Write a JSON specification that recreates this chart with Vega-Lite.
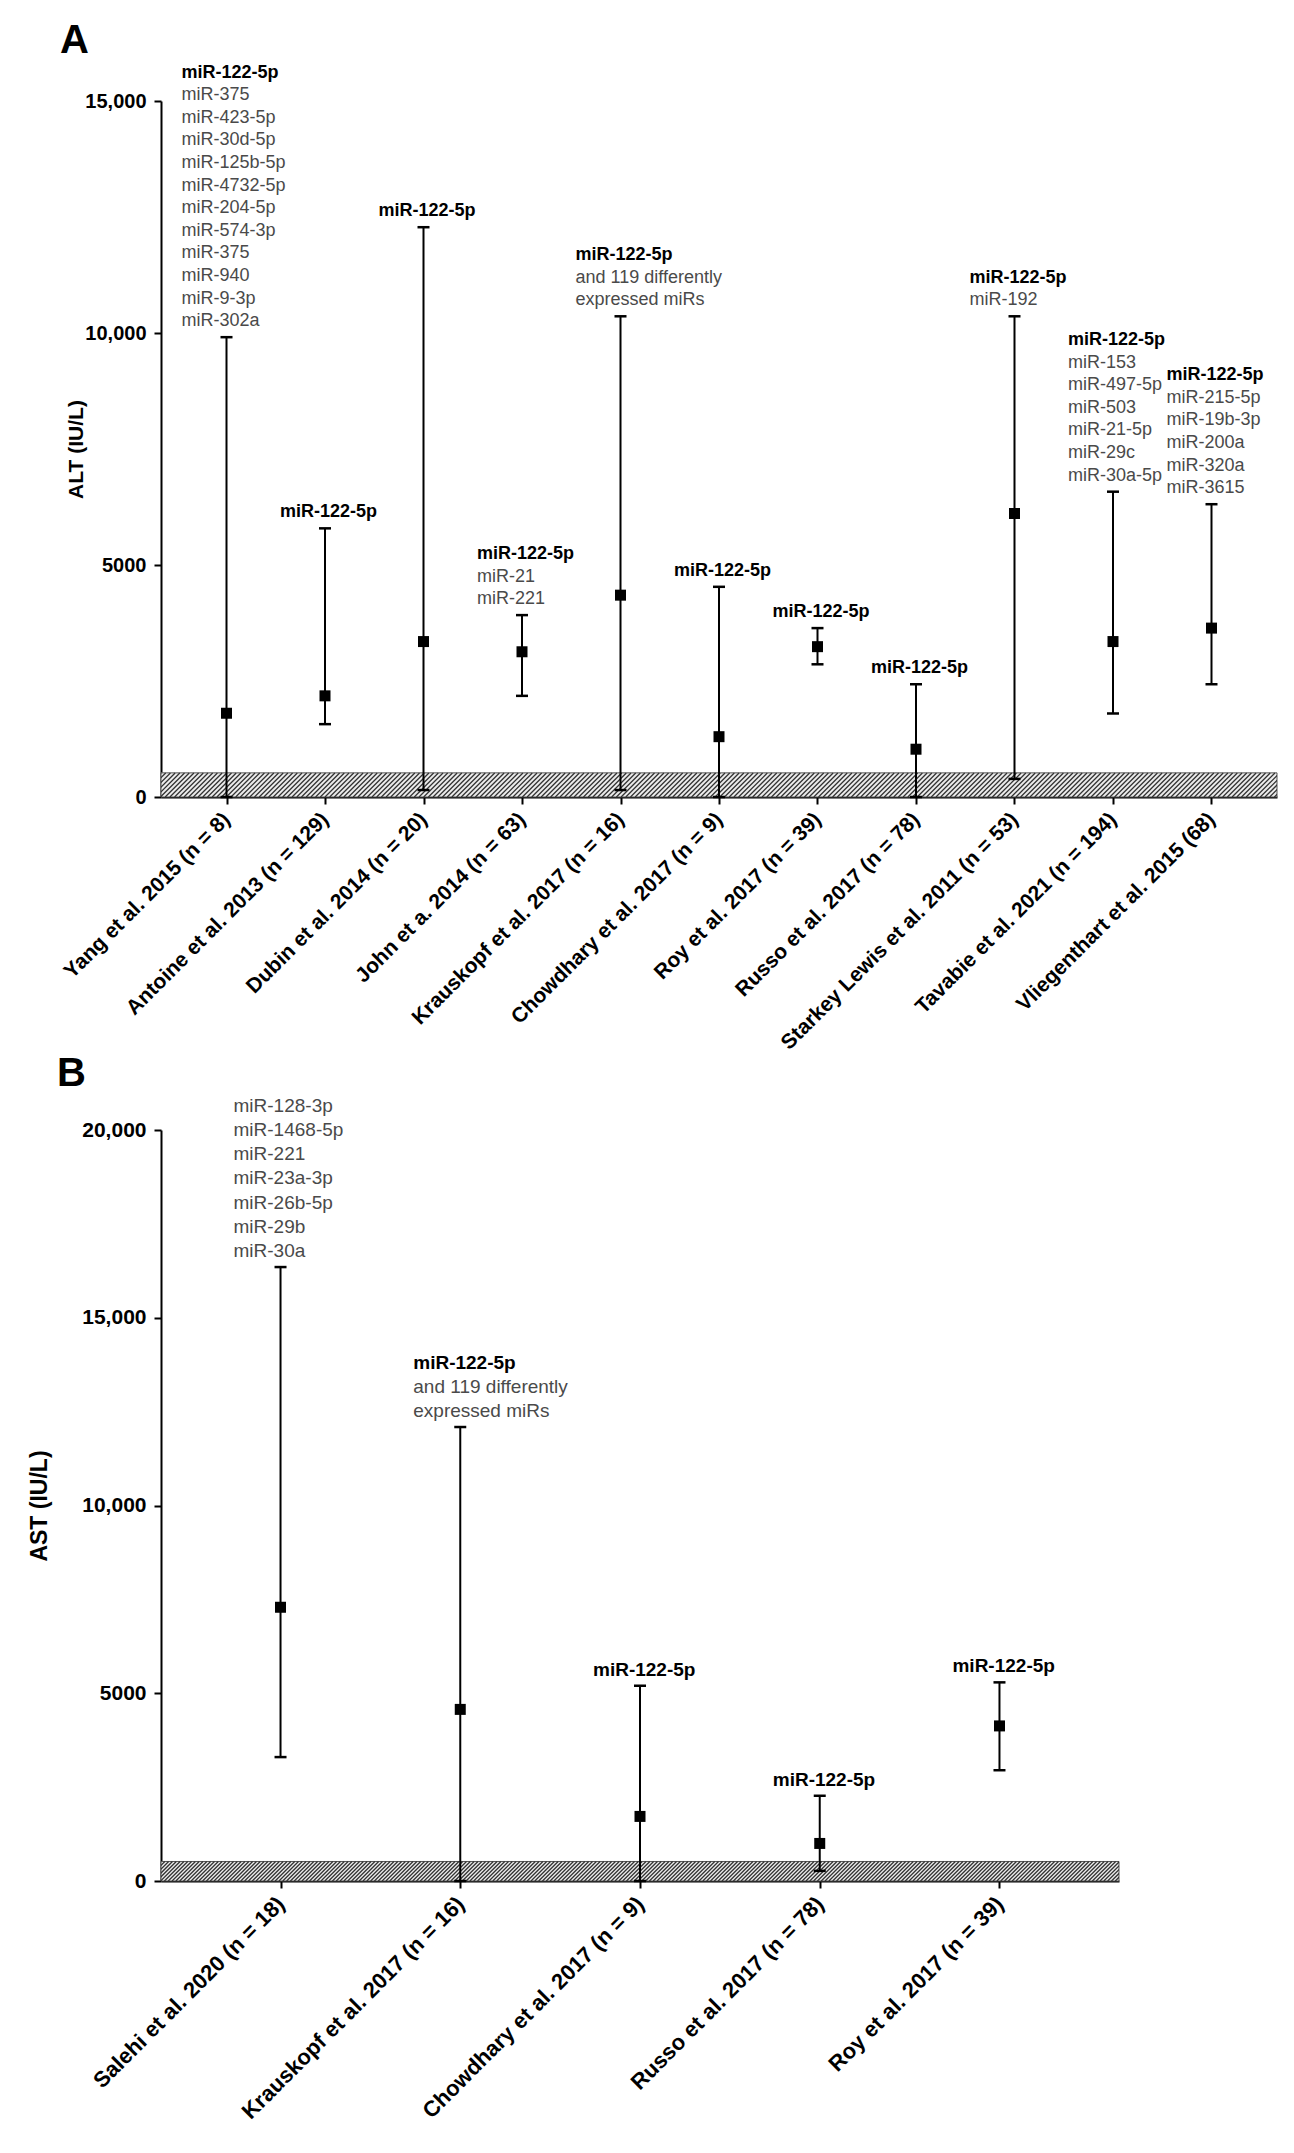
{
"$schema":"https://vega.github.io/schema/vega-lite/v6.json",
"autosize":"none",
"padding":{"left":161,"top":101,"right":1133,"bottom":2052},
"background":"white",
"bounds":"flush",
"spacing":333,
"config":{
 "font":"Liberation Sans",
 "view":{"stroke":null},
 "axis":{"domainColor":"black","domainWidth":2,"tickColor":"black","tickWidth":2,"tickSize":7,"grid":false,"labelColor":"black","titleColor":"black","labelFontWeight":"bold","titleFontWeight":"bold","labelOverlap":false},
 "style":{"hatch":{"shape":"M-24,0l24,-24m-19.3,24l24,-24m-19.3,24l24,-24m-19.3,24l24,-24m-19.3,24l24,-24m-19.3,24l24,-24m-19.3,24l24,-24m-19.3,24l24,-24m-19.3,24l24,-24m-19.3,24l24,-24m-19.3,24l24,-24m-19.3,24l24,-24m-19.3,24l24,-24m-19.3,24l24,-24m-19.3,24l24,-24m-19.3,24l24,-24m-19.3,24l24,-24m-19.3,24l24,-24m-19.3,24l24,-24m-19.3,24l24,-24m-19.3,24l24,-24m-19.3,24l24,-24m-19.3,24l24,-24m-19.3,24l24,-24m-19.3,24l24,-24m-19.3,24l24,-24m-19.3,24l24,-24m-19.3,24l24,-24m-19.3,24l24,-24m-19.3,24l24,-24m-19.3,24l24,-24m-19.3,24l24,-24m-19.3,24l24,-24m-19.3,24l24,-24m-19.3,24l24,-24m-19.3,24l24,-24m-19.3,24l24,-24m-19.3,24l24,-24m-19.3,24l24,-24m-19.3,24l24,-24m-19.3,24l24,-24m-19.3,24l24,-24m-19.3,24l24,-24m-19.3,24l24,-24m-19.3,24l24,-24m-19.3,24l24,-24m-19.3,24l24,-24m-19.3,24l24,-24m-19.3,24l24,-24m-19.3,24l24,-24m-19.3,24l24,-24m-19.3,24l24,-24m-19.3,24l24,-24m-19.3,24l24,-24m-19.3,24l24,-24m-19.3,24l24,-24m-19.3,24l24,-24m-19.3,24l24,-24m-19.3,24l24,-24m-19.3,24l24,-24m-19.3,24l24,-24m-19.3,24l24,-24m-19.3,24l24,-24m-19.3,24l24,-24m-19.3,24l24,-24m-19.3,24l24,-24m-19.3,24l24,-24m-19.3,24l24,-24m-19.3,24l24,-24m-19.3,24l24,-24m-19.3,24l24,-24m-19.3,24l24,-24m-19.3,24l24,-24m-19.3,24l24,-24m-19.3,24l24,-24m-19.3,24l24,-24m-19.3,24l24,-24m-19.3,24l24,-24m-19.3,24l24,-24m-19.3,24l24,-24m-19.3,24l24,-24m-19.3,24l24,-24m-19.3,24l24,-24m-19.3,24l24,-24m-19.3,24l24,-24m-19.3,24l24,-24m-19.3,24l24,-24m-19.3,24l24,-24m-19.3,24l24,-24m-19.3,24l24,-24m-19.3,24l24,-24m-19.3,24l24,-24m-19.3,24l24,-24m-19.3,24l24,-24m-19.3,24l24,-24m-19.3,24l24,-24m-19.3,24l24,-24m-19.3,24l24,-24m-19.3,24l24,-24m-19.3,24l24,-24m-19.3,24l24,-24m-19.3,24l24,-24m-19.3,24l24,-24m-19.3,24l24,-24m-19.3,24l24,-24m-19.3,24l24,-24m-19.3,24l24,-24m-19.3,24l24,-24m-19.3,24l24,-24m-19.3,24l24,-24m-19.3,24l24,-24m-19.3,24l24,-24m-19.3,24l24,-24m-19.3,24l24,-24m-19.3,24l24,-24m-19.3,24l24,-24m-19.3,24l24,-24m-19.3,24l24,-24m-19.3,24l24,-24m-19.3,24l24,-24m-19.3,24l24,-24m-19.3,24l24,-24m-19.3,24l24,-24m-19.3,24l24,-24m-19.3,24l24,-24m-19.3,24l24,-24m-19.3,24l24,-24m-19.3,24l24,-24m-19.3,24l24,-24m-19.3,24l24,-24m-19.3,24l24,-24m-19.3,24l24,-24m-19.3,24l24,-24m-19.3,24l24,-24m-19.3,24l24,-24m-19.3,24l24,-24m-19.3,24l24,-24m-19.3,24l24,-24m-19.3,24l24,-24m-19.3,24l24,-24m-19.3,24l24,-24m-19.3,24l24,-24m-19.3,24l24,-24m-19.3,24l24,-24m-19.3,24l24,-24m-19.3,24l24,-24m-19.3,24l24,-24m-19.3,24l24,-24m-19.3,24l24,-24m-19.3,24l24,-24m-19.3,24l24,-24m-19.3,24l24,-24m-19.3,24l24,-24m-19.3,24l24,-24m-19.3,24l24,-24m-19.3,24l24,-24m-19.3,24l24,-24m-19.3,24l24,-24m-19.3,24l24,-24m-19.3,24l24,-24m-19.3,24l24,-24m-19.3,24l24,-24m-19.3,24l24,-24m-19.3,24l24,-24m-19.3,24l24,-24m-19.3,24l24,-24m-19.3,24l24,-24m-19.3,24l24,-24m-19.3,24l24,-24m-19.3,24l24,-24m-19.3,24l24,-24m-19.3,24l24,-24m-19.3,24l24,-24m-19.3,24l24,-24m-19.3,24l24,-24m-19.3,24l24,-24m-19.3,24l24,-24m-19.3,24l24,-24m-19.3,24l24,-24m-19.3,24l24,-24m-19.3,24l24,-24m-19.3,24l24,-24m-19.3,24l24,-24m-19.3,24l24,-24m-19.3,24l24,-24m-19.3,24l24,-24m-19.3,24l24,-24m-19.3,24l24,-24m-19.3,24l24,-24m-19.3,24l24,-24m-19.3,24l24,-24m-19.3,24l24,-24m-19.3,24l24,-24m-19.3,24l24,-24m-19.3,24l24,-24m-19.3,24l24,-24m-19.3,24l24,-24m-19.3,24l24,-24m-19.3,24l24,-24m-19.3,24l24,-24m-19.3,24l24,-24m-19.3,24l24,-24m-19.3,24l24,-24m-19.3,24l24,-24m-19.3,24l24,-24m-19.3,24l24,-24m-19.3,24l24,-24m-19.3,24l24,-24m-19.3,24l24,-24m-19.3,24l24,-24m-19.3,24l24,-24m-19.3,24l24,-24m-19.3,24l24,-24m-19.3,24l24,-24m-19.3,24l24,-24m-19.3,24l24,-24m-19.3,24l24,-24m-19.3,24l24,-24m-19.3,24l24,-24m-19.3,24l24,-24m-19.3,24l24,-24m-19.3,24l24,-24m-19.3,24l24,-24m-19.3,24l24,-24m-19.3,24l24,-24m-19.3,24l24,-24m-19.3,24l24,-24m-19.3,24l24,-24m-19.3,24l24,-24m-19.3,24l24,-24m-19.3,24l24,-24m-19.3,24l24,-24m-19.3,24l24,-24m-19.3,24l24,-24m-19.3,24l24,-24m-19.3,24l24,-24m-19.3,24l24,-24m-19.3,24l24,-24m-19.3,24l24,-24m-19.3,24l24,-24m-19.3,24l24,-24m-19.3,24l24,-24m-19.3,24l24,-24m-19.3,24l24,-24m-19.3,24l24,-24m-19.3,24l24,-24m-19.3,24l24,-24m-19.3,24l24,-24m-19.3,24l24,-24m-19.3,24l24,-24m-19.3,24l24,-24m-19.3,24l24,-24m-19.3,24l24,-24m-19.3,24l24,-24m-19.3,24l24,-24m-19.3,24l24,-24m-19.3,24l24,-24m-19.3,24l24,-24m-19.3,24l24,-24m-19.3,24l24,-24m-19.3,24l24,-24m-19.3,24l24,-24m-19.3,24l24,-24m-19.3,24l24,-24m-19.3,24l24,-24m-19.3,24l24,-24m-19.3,24l24,-24m-19.3,24l24,-24m-19.3,24l24,-24m-19.3,24l24,-24m-19.3,24l24,-24"}}
},
"datasets":{
 "alt":[
  {"study":"Yang et al. 2015 (n = 8)","mean":1805,"lo":0,"hi":9910},
  {"study":"Antoine et al. 2013 (n = 129)","mean":2180,"lo":1570,"hi":5790},
  {"study":"Dubin et al. 2014 (n = 20)","mean":3350,"lo":150,"hi":12280},
  {"study":"John et a. 2014 (n = 63)","mean":3130,"lo":2180,"hi":3920},
  {"study":"Krauskopf et al. 2017 (n = 16)","mean":4350,"lo":150,"hi":10360},
  {"study":"Chowdhary et al. 2017 (n = 9)","mean":1300,"lo":0,"hi":4530},
  {"study":"Roy et al. 2017 (n = 39)","mean":3240,"lo":2860,"hi":3640},
  {"study":"Russo et al. 2017 (n = 78)","mean":1030,"lo":0,"hi":2430},
  {"study":"Starkey Lewis et al. 2011 (n = 53)","mean":6110,"lo":390,"hi":10360},
  {"study":"Tavabie et al. 2021 (n = 194)","mean":3350,"lo":1800,"hi":6580},
  {"study":"Vliegenthart et al. 2015 (68)","mean":3640,"lo":2430,"hi":6310}
 ],
 "ast":[
  {"study":"Salehi et al. 2020 (n = 18)","mean":7290,"lo":3300,"hi":16350},
  {"study":"Krauskopf et al. 2017 (n = 16)","mean":4570,"lo":0,"hi":12090},
  {"study":"Chowdhary et al. 2017 (n = 9)","mean":1720,"lo":0,"hi":5200},
  {"study":"Russo et al. 2017 (n = 78)","mean":1000,"lo":270,"hi":2270},
  {"study":"Roy et al. 2017 (n = 39)","mean":4130,"lo":2950,"hi":5290}
 ],
 "normA":[{"lo":0,"hi":520}],
 "normB":[{"lo":0,"hi":520}],
 "labA":[
  {"study":"Yang et al. 2015 (n = 8)","k":11,"w":"b","txt":"miR-122-5p"},
  {"study":"Yang et al. 2015 (n = 8)","k":10,"w":"n","txt":"miR-375"},
  {"study":"Yang et al. 2015 (n = 8)","k":9,"w":"n","txt":"miR-423-5p"},
  {"study":"Yang et al. 2015 (n = 8)","k":8,"w":"n","txt":"miR-30d-5p"},
  {"study":"Yang et al. 2015 (n = 8)","k":7,"w":"n","txt":"miR-125b-5p"},
  {"study":"Yang et al. 2015 (n = 8)","k":6,"w":"n","txt":"miR-4732-5p"},
  {"study":"Yang et al. 2015 (n = 8)","k":5,"w":"n","txt":"miR-204-5p"},
  {"study":"Yang et al. 2015 (n = 8)","k":4,"w":"n","txt":"miR-574-3p"},
  {"study":"Yang et al. 2015 (n = 8)","k":3,"w":"n","txt":" miR-375"},
  {"study":"Yang et al. 2015 (n = 8)","k":2,"w":"n","txt":"miR-940"},
  {"study":"Yang et al. 2015 (n = 8)","k":1,"w":"n","txt":"miR-9-3p"},
  {"study":"Yang et al. 2015 (n = 8)","k":0,"w":"n","txt":"miR-302a"},
  {"study":"Antoine et al. 2013 (n = 129)","k":0,"w":"b","txt":"miR-122-5p"},
  {"study":"Dubin et al. 2014 (n = 20)","k":0,"w":"b","txt":"miR-122-5p"},
  {"study":"John et a. 2014 (n = 63)","k":2,"w":"b","txt":"miR-122-5p"},
  {"study":"John et a. 2014 (n = 63)","k":1,"w":"n","txt":"miR-21"},
  {"study":"John et a. 2014 (n = 63)","k":0,"w":"n","txt":"miR-221"},
  {"study":"Krauskopf et al. 2017 (n = 16)","k":2,"w":"b","txt":"miR-122-5p"},
  {"study":"Krauskopf et al. 2017 (n = 16)","k":1,"w":"n","txt":"and 119 differently"},
  {"study":"Krauskopf et al. 2017 (n = 16)","k":0,"w":"n","txt":"expressed miRs"},
  {"study":"Chowdhary et al. 2017 (n = 9)","k":0,"w":"b","txt":"miR-122-5p"},
  {"study":"Roy et al. 2017 (n = 39)","k":0,"w":"b","txt":"miR-122-5p"},
  {"study":"Russo et al. 2017 (n = 78)","k":0,"w":"b","txt":"miR-122-5p"},
  {"study":"Starkey Lewis et al. 2011 (n = 53)","k":1,"w":"b","txt":"miR-122-5p"},
  {"study":"Starkey Lewis et al. 2011 (n = 53)","k":0,"w":"n","txt":"miR-192"},
  {"study":"Tavabie et al. 2021 (n = 194)","k":6,"w":"b","txt":"miR-122-5p"},
  {"study":"Tavabie et al. 2021 (n = 194)","k":5,"w":"n","txt":"miR-153"},
  {"study":"Tavabie et al. 2021 (n = 194)","k":4,"w":"n","txt":"miR-497-5p"},
  {"study":"Tavabie et al. 2021 (n = 194)","k":3,"w":"n","txt":"miR-503"},
  {"study":"Tavabie et al. 2021 (n = 194)","k":2,"w":"n","txt":"miR-21-5p"},
  {"study":"Tavabie et al. 2021 (n = 194)","k":1,"w":"n","txt":"miR-29c"},
  {"study":"Tavabie et al. 2021 (n = 194)","k":0,"w":"n","txt":"miR-30a-5p"},
  {"study":"Vliegenthart et al. 2015 (68)","k":5,"w":"b","txt":"miR-122-5p"},
  {"study":"Vliegenthart et al. 2015 (68)","k":4,"w":"n","txt":"miR-215-5p"},
  {"study":"Vliegenthart et al. 2015 (68)","k":3,"w":"n","txt":"miR-19b-3p"},
  {"study":"Vliegenthart et al. 2015 (68)","k":2,"w":"n","txt":"miR-200a"},
  {"study":"Vliegenthart et al. 2015 (68)","k":1,"w":"n","txt":"miR-320a"},
  {"study":"Vliegenthart et al. 2015 (68)","k":0,"w":"n","txt":"miR-3615"}
 ],
 "labB":[
  {"study":"Salehi et al. 2020 (n = 18)","k":6,"w":"n","txt":"miR-128-3p"},
  {"study":"Salehi et al. 2020 (n = 18)","k":5,"w":"n","txt":"miR-1468-5p"},
  {"study":"Salehi et al. 2020 (n = 18)","k":4,"w":"n","txt":"miR-221"},
  {"study":"Salehi et al. 2020 (n = 18)","k":3,"w":"n","txt":"miR-23a-3p"},
  {"study":"Salehi et al. 2020 (n = 18)","k":2,"w":"n","txt":"miR-26b-5p"},
  {"study":"Salehi et al. 2020 (n = 18)","k":1,"w":"n","txt":"miR-29b"},
  {"study":"Salehi et al. 2020 (n = 18)","k":0,"w":"n","txt":"miR-30a"},
  {"study":"Krauskopf et al. 2017 (n = 16)","k":2,"w":"b","txt":"miR-122-5p"},
  {"study":"Krauskopf et al. 2017 (n = 16)","k":1,"w":"n","txt":"and 119 differently"},
  {"study":"Krauskopf et al. 2017 (n = 16)","k":0,"w":"n","txt":"expressed miRs"},
  {"study":"Chowdhary et al. 2017 (n = 9)","k":0,"w":"b","txt":"miR-122-5p"},
  {"study":"Russo et al. 2017 (n = 78)","k":0,"w":"b","txt":"miR-122-5p"},
  {"study":"Roy et al. 2017 (n = 39)","k":0,"w":"b","txt":"miR-122-5p"}
 ]
},
"vconcat":[
 {
  "width":1116,"height":696,
  "title":{"text":"A","anchor":"start","frame":"group","dx":-101,"offset":-29,"fontSize":40,"fontWeight":"bold","baseline":"alphabetic","color":"black"},
  "layer":[
   {"data":{"name":"normA"},
    "mark":{"type":"rect","fill":"#ebebeb","stroke":"#555555","strokeWidth":1,"x":0,"x2":"width"},
    "encoding":{
     "y":{"field":"lo","type":"quantitative","scale":{"domain":[0,15000],"nice":false},
      "axis":{"title":"ALT (IU/L)","values":[0,5000,10000,15000],"labelExpr":"datum.value >= 10000 ? format(datum.value, ',') : format(datum.value, 'd')","labelFontSize":20,"labelPadding":8,"titleFontSize":21,"titleX":-79,"titleY":348,"titleBaseline":"alphabetic","titleAlign":"center"}},
     "y2":{"field":"hi"}}},
   {"data":{"name":"normA"},
    "mark":{"type":"point","style":"hatch","filled":false,"stroke":"#333333","strokeWidth":1.3,"opacity":1,"size":4,"x":0,"clip":true},
    "encoding":{"y":{"field":"lo","type":"quantitative"}}},
   {"data":{"name":"alt"},
    "mark":{"type":"rule","color":"black","strokeWidth":2},
    "encoding":{
     "x":{"field":"study","type":"nominal","scale":{"type":"point","padding":0.665,"domain":["Yang et al. 2015 (n = 8)","Antoine et al. 2013 (n = 129)","Dubin et al. 2014 (n = 20)","John et a. 2014 (n = 63)","Krauskopf et al. 2017 (n = 16)","Chowdhary et al. 2017 (n = 9)","Roy et al. 2017 (n = 39)","Russo et al. 2017 (n = 78)","Starkey Lewis et al. 2011 (n = 53)","Tavabie et al. 2021 (n = 194)","Vliegenthart et al. 2015 (68)"]},
      "axis":{"title":null,"labelAngle":-45,"labelAlign":"right","labelBaseline":"middle","labelFontSize":21,"labelPadding":12,"labelLimit":500}},
     "y":{"field":"lo","type":"quantitative"},
     "y2":{"field":"hi"}}},
   {"data":{"name":"alt"},
    "mark":{"type":"tick","color":"black","thickness":2.5,"size":12,"opacity":1},
    "encoding":{"x":{"field":"study","type":"nominal"},"y":{"field":"hi","type":"quantitative"}}},
   {"data":{"name":"alt"},
    "mark":{"type":"tick","color":"black","thickness":2.5,"size":12,"opacity":1},
    "encoding":{"x":{"field":"study","type":"nominal"},"y":{"field":"lo","type":"quantitative"}}},
   {"data":{"name":"alt"},
    "mark":{"type":"square","color":"black","filled":true,"size":121,"opacity":1},
    "encoding":{"x":{"field":"study","type":"nominal"},"y":{"field":"mean","type":"quantitative"}}},
   {"data":{"name":"labA"},
    "transform":[{"filter":"datum.w == 'b'"},{"lookup":"study","from":{"data":{"name":"alt"},"key":"study","fields":["hi"]}}],
    "mark":{"type":"text","align":"left","baseline":"alphabetic","dx":-45,"dy":{"expr":"-11 - datum.k * 22.6"},"fontSize":18,"fontWeight":"bold","color":"black"},
    "encoding":{"x":{"field":"study","type":"nominal"},"y":{"field":"hi","type":"quantitative"},"text":{"field":"txt"}}},
   {"data":{"name":"labA"},
    "transform":[{"filter":"datum.w == 'n'"},{"lookup":"study","from":{"data":{"name":"alt"},"key":"study","fields":["hi"]}}],
    "mark":{"type":"text","align":"left","baseline":"alphabetic","dx":-45,"dy":{"expr":"-11 - datum.k * 22.6"},"fontSize":18,"fontWeight":"normal","color":"#4a4a4a"},
    "encoding":{"x":{"field":"study","type":"nominal"},"y":{"field":"hi","type":"quantitative"},"text":{"field":"txt"}}}
  ]
 },
 {
  "width":958,"height":751,
  "title":{"text":"B","anchor":"start","frame":"group","dx":-104,"offset":-29,"fontSize":40,"fontWeight":"bold","baseline":"alphabetic","color":"black"},
  "layer":[
   {"data":{"name":"normB"},
    "mark":{"type":"rect","fill":"#ebebeb","stroke":"#555555","strokeWidth":1,"x":0,"x2":"width"},
    "encoding":{
     "y":{"field":"lo","type":"quantitative","scale":{"domain":[0,20000],"nice":false},
      "axis":{"title":"AST (IU/L)","values":[0,5000,10000,15000,20000],"labelExpr":"datum.value >= 10000 ? format(datum.value, ',') : format(datum.value, 'd')","labelFontSize":21,"labelPadding":8,"titleFontSize":23,"titleX":-115,"titleY":375.5,"titleBaseline":"alphabetic","titleAlign":"center"}},
     "y2":{"field":"hi"}}},
   {"data":{"name":"normB"},
    "mark":{"type":"point","style":"hatch","filled":false,"stroke":"#333333","strokeWidth":1.3,"opacity":1,"size":2.640625,"x":0,"clip":true},
    "encoding":{"y":{"field":"lo","type":"quantitative"}}},
   {"data":{"name":"ast"},
    "mark":{"type":"rule","color":"black","strokeWidth":2},
    "encoding":{
     "x":{"field":"study","type":"nominal","scale":{"type":"point","padding":0.665,"domain":["Salehi et al. 2020 (n = 18)","Krauskopf et al. 2017 (n = 16)","Chowdhary et al. 2017 (n = 9)","Russo et al. 2017 (n = 78)","Roy et al. 2017 (n = 39)"]},
      "axis":{"title":null,"labelAngle":-45,"labelAlign":"right","labelBaseline":"middle","labelFontSize":22,"labelPadding":12,"labelLimit":500}},
     "y":{"field":"lo","type":"quantitative"},
     "y2":{"field":"hi"}}},
   {"data":{"name":"ast"},
    "mark":{"type":"tick","color":"black","thickness":2.5,"size":12,"opacity":1},
    "encoding":{"x":{"field":"study","type":"nominal"},"y":{"field":"hi","type":"quantitative"}}},
   {"data":{"name":"ast"},
    "mark":{"type":"tick","color":"black","thickness":2.5,"size":12,"opacity":1},
    "encoding":{"x":{"field":"study","type":"nominal"},"y":{"field":"lo","type":"quantitative"}}},
   {"data":{"name":"ast"},
    "mark":{"type":"square","color":"black","filled":true,"size":121,"opacity":1},
    "encoding":{"x":{"field":"study","type":"nominal"},"y":{"field":"mean","type":"quantitative"}}},
   {"data":{"name":"labB"},
    "transform":[{"filter":"datum.w == 'b'"},{"lookup":"study","from":{"data":{"name":"ast"},"key":"study","fields":["hi"]}}],
    "mark":{"type":"text","align":"left","baseline":"alphabetic","dx":-47,"dy":{"expr":"-10 - datum.k * 24.2"},"fontSize":19,"fontWeight":"bold","color":"black"},
    "encoding":{"x":{"field":"study","type":"nominal"},"y":{"field":"hi","type":"quantitative"},"text":{"field":"txt"}}},
   {"data":{"name":"labB"},
    "transform":[{"filter":"datum.w == 'n'"},{"lookup":"study","from":{"data":{"name":"ast"},"key":"study","fields":["hi"]}}],
    "mark":{"type":"text","align":"left","baseline":"alphabetic","dx":-47,"dy":{"expr":"-10 - datum.k * 24.2"},"fontSize":19,"fontWeight":"normal","color":"#4a4a4a"},
    "encoding":{"x":{"field":"study","type":"nominal"},"y":{"field":"hi","type":"quantitative"},"text":{"field":"txt"}}}
  ]
 }
]
}
